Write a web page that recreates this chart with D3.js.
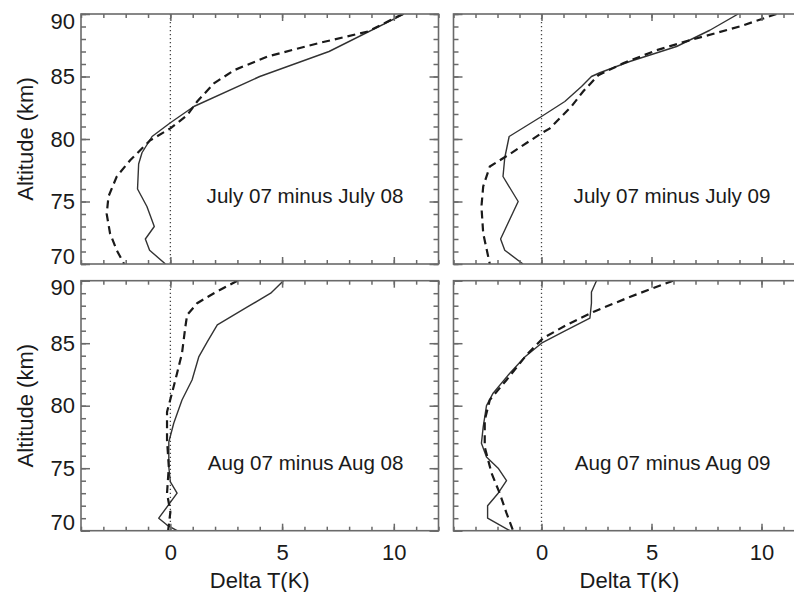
<!DOCTYPE html>
<html>
<head>
<meta charset="utf-8">
<script src="https://cdn.jsdelivr.net/npm/d3@7/dist/d3.min.js"></script>
<style>
  html, body { margin: 0; padding: 0; background: #fff; overflow: hidden; }
  svg { display: block; font-family: "Liberation Sans", Arial, Helvetica, sans-serif; }
</style>
</head>
<body>
<svg id="chart" width="794" height="592"></svg>
<script>
// ---------- data (altitude km, Delta T in K) ----------
const panelLabels = ["July 07 minus July 08", "July 07 minus July 09", "Aug 07 minus Aug 08", "Aug 07 minus Aug 09"];
const xMajorTicks = [0, 5, 10];
const yMajorTicks = [70, 75, 80, 85, 90];
const xTitle = "Delta T(K)";
const yTitle = "Altitude (km)";

// Panel 1: July 07 minus July 08
const jul08SolidAlt = [90, 87, 85, 82.6, 81.3, 80.2, 78.9, 78, 76, 74.6, 73, 72, 71.1, 70];
const jul08SolidT   = [10.45, 7.1, 4.0, 1.05, 0.0, -0.82, -1.27, -1.42, -1.47, -1.05, -0.72, -1.12, -0.93, -0.22];
const jul08DashAlt  = [90, 88.6, 87.65, 86.6, 85.5, 84.45, 83, 81.9, 80.85, 79.9, 78.3, 77, 75.4, 74, 72.45, 71.1, 70];
const jul08DashT    = [10.4, 8.84, 6.59, 4.35, 2.85, 1.95, 1.2, 0.75, 0.0, -0.9, -1.8, -2.4, -2.77, -2.85, -2.7, -2.4, -2.07];

// Panel 2: July 07 minus July 09
const jul09SolidAlt = [90, 88.7, 87.4, 86.2, 85.3, 85, 84.2, 83, 81.8, 80.2, 78.5, 77, 75, 72, 71.1, 70];
const jul09SolidT   = [8.94, 7.65, 6.14, 4.01, 2.65, 2.27, 1.82, 1.06, 0.0, -1.47, -1.67, -1.75, -1.06, -1.86, -1.67, -0.84];
const jul09DashAlt  = [90, 89, 87.9, 87.1, 86.06, 85.1, 83.8, 82.6, 80.85, 80.46, 78.8, 77.8, 76.2, 74.6, 72.45, 70];
const jul09DashT    = [10.68, 9.01, 6.74, 5.23, 3.71, 2.58, 1.89, 1.36, 0.38, 0, -1.44, -2.35, -2.65, -2.73, -2.65, -2.35];

// Panel 3: Aug 07 minus Aug 08
const aug08SolidAlt = [90, 89, 87.9, 87.1, 86.46, 85.1, 83.9, 82.06, 80.46, 78.6, 77.1, 75.1, 73.9, 73.0, 71.0, 70.45, 70];
const aug08SolidT   = [5.06, 4.49, 3.45, 2.7, 2.1, 1.65, 1.27, 0.97, 0.52, 0.15, -0.07, -0.07, 0.0, 0.3, -0.52, -0.15, 0.3];
const aug08DashAlt  = [90, 89, 88.2, 87.26, 86.3, 84.2, 82.6, 81.0, 79.5, 77.25, 75.1, 73, 71.5, 70];
const aug08DashT    = [3.0, 1.95, 1.2, 0.75, 0.67, 0.52, 0.3, 0.07, -0.15, -0.15, -0.07, -0.15, 0, -0.1];

// Panel 4: Aug 07 minus Aug 09
const aug09SolidAlt = [90, 89.1, 88.2, 87.0, 85.9, 85.0, 83.9, 82.6, 81, 80, 78.3, 77, 75.9, 75, 74, 73, 72, 71, 70];
const aug09SolidT   = [2.5, 2.27, 2.27, 2.2, 0.98, 0, -0.76, -1.44, -2.2, -2.5, -2.65, -2.73, -2.5, -1.97, -1.59, -1.97, -2.45, -2.45, -1.44];
const aug09DashAlt  = [90, 88.7, 87.5, 86.46, 85.4, 84.06, 82.06, 80.46, 78.85, 76.7, 74.6, 73, 71.4, 70];
const aug09DashT    = [5.98, 4.01, 2.35, 1.14, 0.07, -0.68, -1.59, -2.35, -2.58, -2.58, -2.27, -1.9, -1.59, -1.29];

// ---------- layout ----------
const cols = [{x0: 81, x1: 438.5}, {x0: 453.5, x1: 805.5}];
const rows = [{y0: 14, y1: 264}, {y0: 280.7, y1: 530.7}];
const xDomain = [-4, 12];
const yDomain = [70, 90];

const series = [
  {solid: [jul08SolidAlt, jul08SolidT], dash: [jul08DashAlt, jul08DashT]},
  {solid: [jul09SolidAlt, jul09SolidT], dash: [jul09DashAlt, jul09DashT]},
  {solid: [aug08SolidAlt, aug08SolidT], dash: [aug08DashAlt, aug08DashT]},
  {solid: [aug09SolidAlt, aug09SolidT], dash: [aug09DashAlt, aug09DashT]}
];

const svg = d3.select("#chart");
const FRAME = "#6a6a6a";
const INK = "#1a1a1a";
const FONT = 22;

series.forEach((s, i) => {
  const col = cols[i % 2], row = rows[Math.floor(i / 2)];
  const w = col.x1 - col.x0, h = row.y1 - row.y0;
  const x = d3.scaleLinear().domain(xDomain).range([0, w]);
  const y = d3.scaleLinear().domain(yDomain).range([h, 0]);
  const g = svg.append("g").attr("transform", `translate(${col.x0},${row.y0})`);

  const clipId = "clip" + i;
  g.append("clipPath").attr("id", clipId).append("rect").attr("width", w).attr("height", h);

  // zero line
  g.append("line")
    .attr("x1", x(0)).attr("x2", x(0)).attr("y1", 0).attr("y2", h)
    .attr("stroke", "#444").attr("stroke-width", 1.3).attr("stroke-dasharray", "1.3,2.7");

  const line = d3.line().x(d => x(d[1])).y(d => y(d[0]));
  const pts = arr => arr[0].map((a, k) => [a, arr[1][k]]);

  const plot = g.append("g").attr("clip-path", `url(#${clipId})`);
  plot.append("path").datum(pts(s.solid))
    .attr("d", line).attr("fill", "none").attr("stroke", "#333").attr("stroke-width", 1.4)
    .attr("stroke-linejoin", "round");
  plot.append("path").datum(pts(s.dash))
    .attr("d", line).attr("fill", "none").attr("stroke", INK).attr("stroke-width", 2.2)
    .attr("stroke-dasharray", "8,5");

  // frame
  g.append("rect").attr("width", w).attr("height", h)
    .attr("fill", "none").attr("stroke", FRAME).attr("stroke-width", 1.6);

  // ticks (drawn after frame, inward)
  const yMinor = d3.range(70, 91, 1);
  const xMinor = d3.range(-4, 13, 1);
  const styleAxis = sel => {
    sel.select(".domain").remove();
    sel.selectAll(".tick line").attr("stroke", FRAME).attr("stroke-width", 1.5);
  };
  g.append("g").call(d3.axisLeft(y).tickValues(yMinor).tickSize(-5).tickFormat(() => "")).call(styleAxis);
  g.append("g").attr("transform", `translate(${w},0)`)
    .call(d3.axisRight(y).tickValues(yMinor).tickSize(-5).tickFormat(() => "")).call(styleAxis);
  g.append("g").attr("transform", `translate(0,${h})`)
    .call(d3.axisBottom(x).tickValues(xMinor).tickSize(-4).tickFormat(() => "")).call(styleAxis);
  g.append("g")
    .call(d3.axisTop(x).tickValues(xMinor).tickSize(-4).tickFormat(() => "")).call(styleAxis);

  const leftCol = (i % 2 === 0), bottomRow = (i >= 2);
  const yl = g.append("g")
    .call(d3.axisLeft(y).tickValues(yMajorTicks).tickSize(-9).tickPadding(6)
      .tickFormat(d => leftCol ? d3.format("d")(d) : ""))
    .call(styleAxis);
  yl.selectAll("text")
    .attr("font-size", FONT).attr("fill", INK)
    .attr("y", d => d === 90 ? 7 : (d === 70 ? -8 : 0));
  yl.attr("font-family", null);
  g.append("g").attr("transform", `translate(${w},0)`)
    .call(d3.axisRight(y).tickValues(yMajorTicks).tickSize(-9).tickFormat(() => "")).call(styleAxis);
  const xb = g.append("g").attr("transform", `translate(0,${h})`)
    .call(d3.axisBottom(x).tickValues(xMajorTicks).tickSize(-7).tickPadding(14)
      .tickFormat(d => bottomRow ? d3.format("d")(d) : ""))
    .call(styleAxis);
  xb.selectAll("text").attr("font-size", FONT).attr("fill", INK);
  xb.attr("font-family", null);
  g.append("g")
    .call(d3.axisTop(x).tickValues(xMajorTicks).tickSize(-7).tickFormat(() => "")).call(styleAxis);

  // annotation
  g.append("text").attr("x", w - 35).attr("y", 189).attr("text-anchor", "end")
    .attr("font-size", 20.6).attr("fill", INK).text(panelLabels[i]);

  if (leftCol) {
    svg.append("text")
      .attr("transform", `translate(33,${(row.y0 + row.y1) / 2}) rotate(-90)`)
      .attr("text-anchor", "middle").attr("font-size", FONT).attr("fill", INK).text(yTitle);
  }
  if (bottomRow) {
    svg.append("text").attr("x", (col.x0 + col.x1) / 2).attr("y", 588)
      .attr("text-anchor", "middle").attr("font-size", FONT).attr("fill", INK).text(xTitle);
  }
});
</script>
</body>
</html>
